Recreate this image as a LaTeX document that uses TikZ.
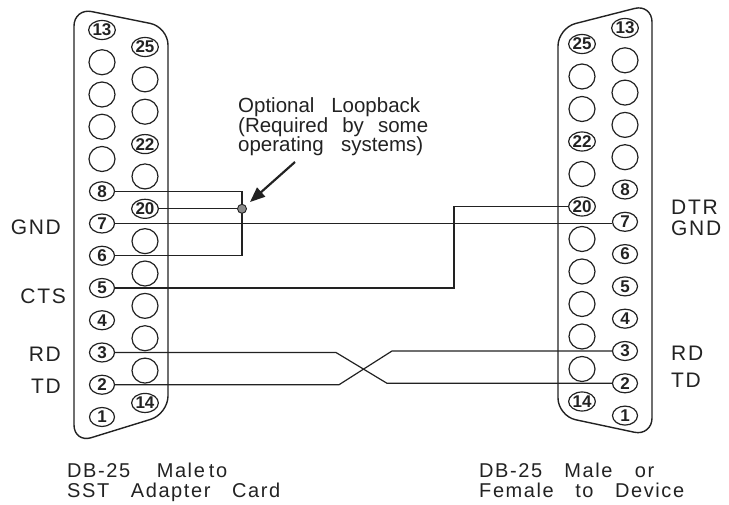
\documentclass[tikz,border=0pt]{standalone}
\usepackage{fontspec}
\setmainfont{Liberation Sans}
\newfontfamily\capfont[LetterSpace=8]{Liberation Sans}
\newfontfamily\labfont[LetterSpace=8]{Liberation Sans}
\newfontfamily\pinfont{Liberation Sans Bold}
\usetikzlibrary{arrows.meta,shapes.geometric}
\definecolor{ink}{HTML}{222222}
\begin{document}
\begin{tikzpicture}[x=1pt,y=-1pt,
  outline/.style={draw=ink,line width=1.4pt,rounded corners=18pt},
  pinnum/.style={ellipse,draw=ink,line width=1.2pt,minimum width=25pt,minimum height=19pt,inner sep=0pt,
     font=\pinfont\fontsize{17}{17}\selectfont,text=ink},
  hole/.style={ellipse,draw=ink,line width=1.2pt,minimum width=26pt,minimum height=25pt,inner sep=0pt},
  wire/.style={draw=ink,line width=1.2pt},
  lab/.style={font=\labfont\fontsize{21}{21}\selectfont,text=ink,inner sep=0pt},
  note/.style={font=\fontsize{20.5}{19.5}\selectfont,text=ink,inner sep=0pt,align=left},
  captext/.style={font=\capfont\fontsize{20}{20}\selectfont,text=ink,inner sep=0pt,align=left},
  junction/.style={circle,draw=ink,fill=black!45,line width=0.9pt,minimum size=9pt,inner sep=0pt},
  pointer/.style={draw=ink,line width=2.2pt,-{Triangle[length=15pt,width=12pt]}}]
\useasboundingbox (0,0) rectangle (729,505);
% connector outlines
\draw[outline] (74,200) -- (74,8) -- (168,27) -- (168,414) -- (74,443) -- cycle;
\draw[outline] (652,200) -- (652,4) -- (558,28) -- (558,416) -- (652,436) -- cycle;
% left pins
\foreach \n in {1,2,3,4,5,6,7,8,13} \node[pinnum] (L\n) at (102,{30+(13-\n)*32.25}) {\n};
\foreach \n in {9,10,11,12} \node[hole] (L\n) at (102,{30+(13-\n)*32.25}) {};
\foreach \n in {14,20,22,25} \node[pinnum] (L\n) at (145,{47+(25-\n)*32.36}) {\n};
\foreach \n in {15,16,17,18,19,21,23,24} \node[hole] (L\n) at (145,{47+(25-\n)*32.36}) {};
% right pins
\foreach \n in {1,2,3,4,5,6,7,8,13} \node[pinnum] (R\n) at (625,{28+(13-\n)*32.3}) {\n};
\foreach \n in {9,10,11,12} \node[hole] (R\n) at (625,{28+(13-\n)*32.3}) {};
\foreach \n in {14,20,22,25} \node[pinnum] (R\n) at (582,{44+(25-\n)*32.5}) {\n};
\foreach \n in {15,16,17,18,19,21,23,24} \node[hole] (R\n) at (582,{44+(25-\n)*32.5}) {};
% helper coordinates
\coordinate (X1) at (242,0);
\coordinate (X2) at (454,0);
\coordinate (C1) at (336,0);
\coordinate (C2) at (387,0);
\coordinate (C3) at (339,0);
\coordinate (C4) at (392,0);
\coordinate (J) at (X1 |- L20);
% wires
\draw[wire] (L8.east) -| (J) |- (L6.east);
\draw[wire] (L20.east) -- (J);
\draw[wire] (L7.east) -- (L7 -| R7.west);
\draw[wire] (R20.west) -| (X2 |- L5) -- (L5.east);
\draw[wire] (L3.east) -- (C1 |- L3) -- (C2 |- R2) -- (R2.west);
\draw[wire] (L2.east) -- (C3 |- L2) -- (C4 |- R3) -- (R3.west);
\node[junction] (dot) at (J) {};
% pointer
\coordinate (AS) at (295,162);
\coordinate (AT) at (250,202);
\draw[pointer] (AS) -- (AT);
\node[note,anchor=base west] (loop) at (238,152)
  {\makebox[182pt][s]{Optional Loopback}\\\makebox[190pt][s]{(Required by some}\\\makebox[185pt][s]{operating systems)}};
% signal labels
\node[lab,anchor=east] (lgnd) at (61,227) {GND};
\node[lab,anchor=east] (lcts) at (66,296) {CTS};
\node[lab,anchor=east] (lrd) at (61,354) {RD};
\node[lab,anchor=east] (ltd) at (61,386) {TD};
\node[lab,anchor=west] (rdtr) at (671,207) {DTR};
\node[lab,anchor=west] (rgnd) at (671,228) {GND};
\node[lab,anchor=west] (rrd) at (671,353) {RD};
\node[lab,anchor=west] (rtd) at (671,380) {TD};
% captions
\node[captext,anchor=base west] (capl) at (67,497)
  {\makebox[160pt][s]{DB-25\hspace{0pt plus 1fil}Male\hspace{4pt}to}\\
   \makebox[213pt][s]{SST\hspace{0pt plus 1fil}Adapter\hspace{0pt plus 1fil}Card}};
\node[captext,anchor=base west] (capr) at (479,497)
  {\makebox[175pt][s]{DB-25\hspace{0pt plus 1fil}Male\hspace{0pt plus 1fil}or}\\
   \makebox[205pt][s]{Female\hspace{0pt plus 1fil}to\hspace{0pt plus 1fil}Device}};
\end{tikzpicture}
\end{document}
